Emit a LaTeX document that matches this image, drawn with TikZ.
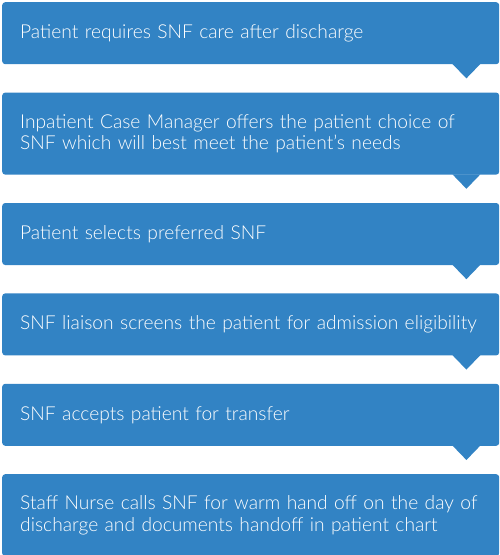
\documentclass[tikz,border=0pt]{standalone}
\usepackage{fontspec}
\setmainfont{Lato Light}
\usetikzlibrary{positioning}
\definecolor{snfblue}{RGB}{50,131,196}

\begin{document}
\begin{tikzpicture}[
  x=1pt, y=1pt,
  stepbox/.style={fill=snfblue, rounded corners=3pt, anchor=north west, text=white, align=left,
    text width=461pt, inner xsep=18pt, inner ysep=0pt, minimum height=62pt,
    font=\fontsize{19.2}{21.5}\selectfont},
  tallbox/.style={stepbox, minimum height=82pt},
]
\useasboundingbox (0,0) rectangle (500,-555);

% === STEPS ===
\node[stepbox] (need) at (2,-2) {Patient requires SNF care after discharge};
\node[tallbox, below=28pt of need] (choice) {Inpatient Case Manager offers the patient choice of\\SNF which will best meet the patient’s needs};
\node[stepbox, below=28pt of choice] (select) {Patient selects preferred SNF};
\node[stepbox, below=28pt of select] (screen) {SNF liaison screens the patient for admission eligibility};
\node[stepbox, below=28pt of screen] (accept) {SNF accepts patient for transfer};
\node[tallbox, below=28pt of accept] (handoff) {Staff Nurse calls SNF for warm hand off on the day of\\discharge and documents handoff in patient chart};

% === TAILS ===
\foreach \b in {need,choice,select,screen,accept}
  \fill[snfblue] ([xshift=-47pt,yshift=0.5pt]\b.south east) -- ([xshift=-19pt,yshift=0.5pt]\b.south east)
    -- ([xshift=-33pt,yshift=-14pt]\b.south east) -- cycle;
\end{tikzpicture}
\end{document}
